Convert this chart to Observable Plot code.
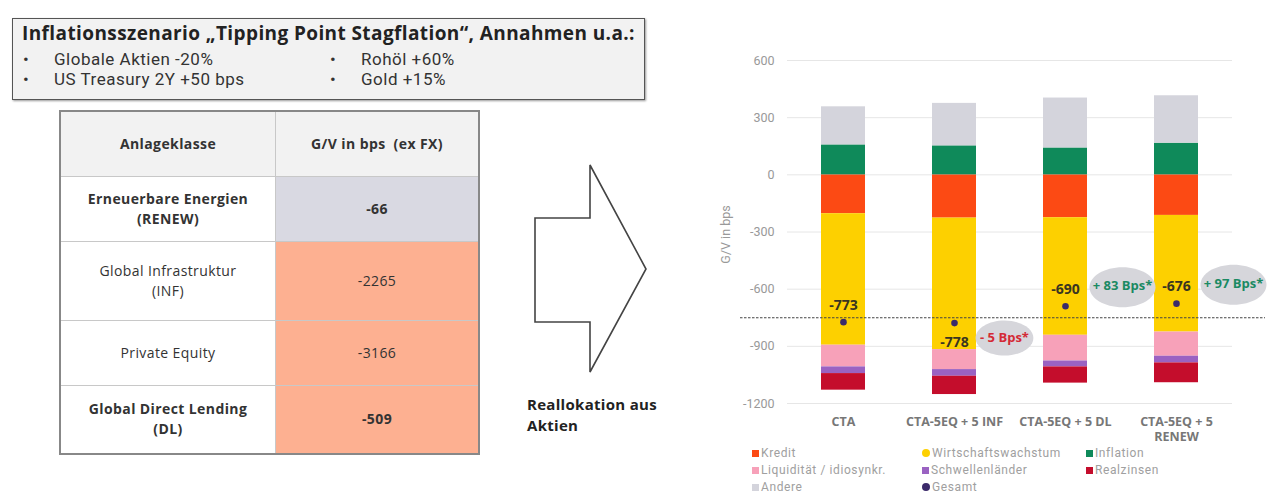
<!DOCTYPE html>
<html>
<head>
<meta charset="utf-8">
<script src="https://cdn.jsdelivr.net/npm/d3@7"></script>
<script src="https://cdn.jsdelivr.net/npm/@observablehq/plot@0.6"></script>
<style>
  html, body { margin: 0; padding: 0; background: #fff; }
  body { width: 1272px; height: 494px; position: relative; overflow: hidden; font-family: "Open Sans", sans-serif; }
  #hdr { position: absolute; left: 12px; top: 18px; width: 633px; height: 82px; background: #f2f2f2; border: 1.5px solid #555; box-shadow: 1px 1px 2px #999; box-sizing: border-box; }
  #hdr .title { position: absolute; left: 9px; top: 1px; font: bold 19px "Open Sans", sans-serif; color: #222; white-space: nowrap; letter-spacing: 0.4px; }
  #hdr .b { position: absolute; font: 17px Roboto, sans-serif; color: #333; white-space: nowrap; letter-spacing: 0.5px; }
  #tbl { position: absolute; left: 59px; top: 110px; border-collapse: collapse; font-family: "Open Sans", sans-serif; font-size: 14px; letter-spacing: 0.4px; color: #333; }
  #tbl td, #tbl th { border: 1px solid #c8c8c8; text-align: center; padding: 0; line-height: 20px; }
  #tbl { border: 2px solid #888; }
  #arrow { position: absolute; left: 0; top: 0; }
  #realloc { position: absolute; left: 527px; top: 394px; font: bold 15px "Open Sans", sans-serif; letter-spacing: 0.3px; color: #222; line-height: 21px; }
  #chart { position: absolute; left: 700px; top: 40px; }
  #legend { position: absolute; left: 752px; top: 445px; font: 12px Roboto, sans-serif; letter-spacing: 0.6px; color: #a0a0a0; }
  #legend .item { position: absolute; white-space: nowrap; height: 17px; line-height: 17px; }
  #legend .sw { display: inline-block; width: 7px; height: 7px; margin-right: 2px; vertical-align: 0px; }
</style>
</head>
<body>
<div id="hdr"></div>
<table id="tbl"></table>
<svg id="arrow" width="700" height="494"></svg>
<div id="realloc">Reallokation aus<br>Aktien</div>
<div id="chart"></div>
<div id="legend"></div>
<script>
// ---------- Header texts ----------
const headerTitle = "Inflationsszenario \u201eTipping Point Stagflation\u201c, Annahmen u.a.:";
const assumptionsCol1 = ["Globale Aktien -20%", "US Treasury 2Y +50 bps"];
const assumptionsCol2 = ["Roh\u00f6l +60%", "Gold +15%"];

// ---------- Table data ----------
const tableHeaders = ["Anlageklasse", "G/V in bps\u00a0 (ex FX)"];
const assetClasses = ["Erneuerbare Energien", "Global Infrastruktur", "Private Equity", "Global Direct Lending"];
const assetCodes = ["(RENEW)", "(INF)", "", "(DL)"];
const assetGV = [-66, -2265, -3166, -509];
const assetBold = [true, false, false, true];

// ---------- Chart data ----------
const categories = ["CTA", "CTA-5EQ + 5 INF", "CTA-5EQ + 5 DL", "CTA-5EQ + 5 RENEW"];
const xTickLabels = ["CTA", "CTA-5EQ + 5 INF", "CTA-5EQ + 5 DL", "CTA-5EQ + 5\nRENEW"];
const seriesNames = ["Kredit", "Wirtschaftswachstum", "Inflation", "Liquidit\u00e4t / idiosynkr.", "Schwellenl\u00e4nder", "Realzinsen", "Andere"];
const seriesColors = ["#fc4a14", "#fdd000", "#0f8a5a", "#f7a1b9", "#9a62c2", "#c40d2c", "#d4d4dc"];
const kredit = [-204, -227, -225, -213];
const wirtschaftswachstum = [-690, -690, -617, -612];
const inflation = [157, 152, 141, 166];
const liquiditaet = [-114, -105, -135, -127];
const schwellenlaender = [-35, -35, -31, -35];
const realzinsen = [-87, -96, -85, -104];
const andere = [200, 223, 262, 249];
const gesamt = [-773, -778, -690, -676];
const deltaLabels = ["", "- 5 Bps*", "+ 83 Bps*", "+ 97 Bps*"];
const referenceLevel = -750;
const yTicks = [600, 300, 0, -300, -600, -900, -1200];

// ---------- Header ----------
const hdr = document.getElementById("hdr");
hdr.innerHTML = `<div class="title">${headerTitle}</div>` +
  assumptionsCol1.map((t, i) => `<div class="b" style="left:10px;top:${30 + i * 20}px">\u2022</div><div class="b" style="left:41px;top:${30 + i * 20}px">${t}</div>`).join("") +
  assumptionsCol2.map((t, i) => `<div class="b" style="left:317px;top:${30 + i * 20}px">\u2022</div><div class="b" style="left:348px;top:${30 + i * 20}px">${t}</div>`).join("");

// ---------- Table ----------
const rowHeights = [65, 65, 79, 65, 69];
const valueFills = ["#d9d9e2", "#fdb091", "#fdb091", "#fdb091"];
const tbl = document.getElementById("tbl");
let html = `<tr style="height:${rowHeights[0]}px;background:#f2f2f2"><th style="width:214px">${tableHeaders[0]}</th><th style="width:202px">${tableHeaders[1]}</th></tr>`;
assetClasses.forEach((a, i) => {
  const fw = assetBold[i] ? "bold" : "normal";
  html += `<tr style="height:${rowHeights[i + 1]}px"><td style="font-weight:${fw};background:#fff">${a}${assetCodes[i] ? "<br>" + assetCodes[i] : ""}</td>` +
    `<td style="font-weight:${fw};background:${valueFills[i]}">${assetGV[i]}</td></tr>`;
});
tbl.innerHTML = html;

// ---------- Arrow ----------
d3.select("#arrow").append("path")
  .attr("d", "M535,218 L590,218 L590,165 L646,269 L590,372 L590,322 L535,322 Z")
  .attr("fill", "#fff").attr("stroke", "#444").attr("stroke-width", 1.6);

// ---------- Chart ----------
const seriesValues = [kredit, wirtschaftswachstum, inflation, liquiditaet, schwellenlaender, realzinsen, andere];
const stackRows = [];
seriesNames.forEach((s, si) => categories.forEach((c, ci) => stackRows.push({cat: c, series: s, value: seriesValues[si][ci]})));
const totals = categories.map((c, i) => ({cat: c, total: gesamt[i], delta: deltaLabels[i], i}));

const ellipse = {
  draw(context, size) {
    const r = Math.sqrt(size / Math.PI);
    const rx = r * 1.65, ry = r, k = 0.5523;
    context.moveTo(rx, 0);
    context.bezierCurveTo(rx, ry * k, rx * k, ry, 0, ry);
    context.bezierCurveTo(-rx * k, ry, -rx, ry * k, -rx, 0);
    context.bezierCurveTo(-rx, -ry * k, -rx * k, -ry, 0, -ry);
    context.bezierCurveTo(rx * k, -ry, rx, -ry * k, rx, 0);
    context.closePath();
  }
};

const neg = totals.filter(d => d.delta && d.delta.startsWith("-"));
const pos = totals.filter(d => d.delta && d.delta.startsWith("+"));

const chart = Plot.plot({
  width: 572,
  height: 400,
  marginTop: 20,
  marginBottom: 37,
  marginLeft: 40,
  marginRight: 7,
  style: {fontFamily: "Roboto, sans-serif", background: "transparent", overflow: "visible"},
  x: {type: "band", domain: categories, paddingInner: 0.606, paddingOuter: 0.651, align: 0.543, axis: null},
  y: {domain: [-1200, 600], axis: null},
  color: {domain: seriesNames, range: seriesColors},
  marks: [
    Plot.ruleY(yTicks, {stroke: "#e6e6e6", strokeWidth: 1, insetLeft: 47, insetRight: 33}),
    Plot.barY(stackRows, {x: "cat", y: "value", fill: "series", order: null}),
    Plot.ruleY([referenceLevel], {stroke: "#444", strokeWidth: 1.2, strokeDasharray: "2.5,1.5"}),
    Plot.dot(totals, {x: "cat", y: "total", r: 3.3, fill: "#3b2a6a"}),
    Plot.text(totals.filter(d => d.i !== 1), {x: "cat", y: "total", text: d => String(d.total), dy: -17, fontWeight: "bold", fontSize: 14, fill: "#3a3520", fontFamily: "Open Sans, sans-serif"}),
    Plot.text(totals.filter(d => d.i === 1), {x: "cat", y: "total", text: d => String(d.total), dy: 19, fontWeight: "bold", fontSize: 14, fill: "#3a3520", fontFamily: "Open Sans, sans-serif"}),
    Plot.dot(neg, {x: "cat", y: "total", dx: 50, dy: 15, r: 17.5, symbol: ellipse, fill: "#d6d6db"}),
    Plot.text(neg, {x: "cat", y: "total", text: "delta", dx: 50, dy: 15, fill: "#d42a36", fontWeight: "bold", fontSize: 13, fontFamily: "Open Sans, sans-serif"}),
    Plot.dot(pos, {x: "cat", y: "total", dx: 57, dy: -19, r: 20, symbol: ellipse, fill: "#d6d6db"}),
    Plot.text(pos, {x: "cat", y: "total", text: "delta", dx: 57, dy: -20, fill: "#1b8a63", fontWeight: "bold", fontSize: 13, fontFamily: "Open Sans, sans-serif"}),
    Plot.text(yTicks, {y: d => d, text: d => String(d), frameAnchor: "left", textAnchor: "end", dx: 34, fill: "#999", fontSize: 12.5, letterSpacing: "0.4px"}),
    Plot.text(categories, {x: d => d, text: (d, i) => xTickLabels[i], frameAnchor: "bottom", lineAnchor: "top", lineHeight: 1.2, dy: 12, fill: "#777", fontSize: 12.5, fontWeight: "bold", fontFamily: "Open Sans, sans-serif"}),
    Plot.text(["G/V in bps"], {frameAnchor: "left", textAnchor: "middle", dx: -15, dy: 2.5, rotate: -90, fill: "#999", fontSize: 12.5, letterSpacing: "0.6px"})
  ]
});
document.getElementById("chart").appendChild(chart);

// ---------- Legend ----------
const legendNames = [...seriesNames, "Gesamt"];
const legendColors = [...seriesColors, "#3b2a6a"];
const colX = [0, 170, 334];
const leg = document.getElementById("legend");
leg.innerHTML = legendNames.map((name, j) => {
  const col = j % 3, row = Math.floor(j / 3);
  const round = (name === "Gesamt" || name === "Wirtschaftswachstum") ? "border-radius:50%;width:8px;height:8px;" : "";
  return `<div class="item" style="left:${colX[col]}px;top:${row * 17}px"><span class="sw" style="background:${legendColors[j]};${round}"></span>${name}</div>`;
}).join("");
</script>
</body>
</html>
